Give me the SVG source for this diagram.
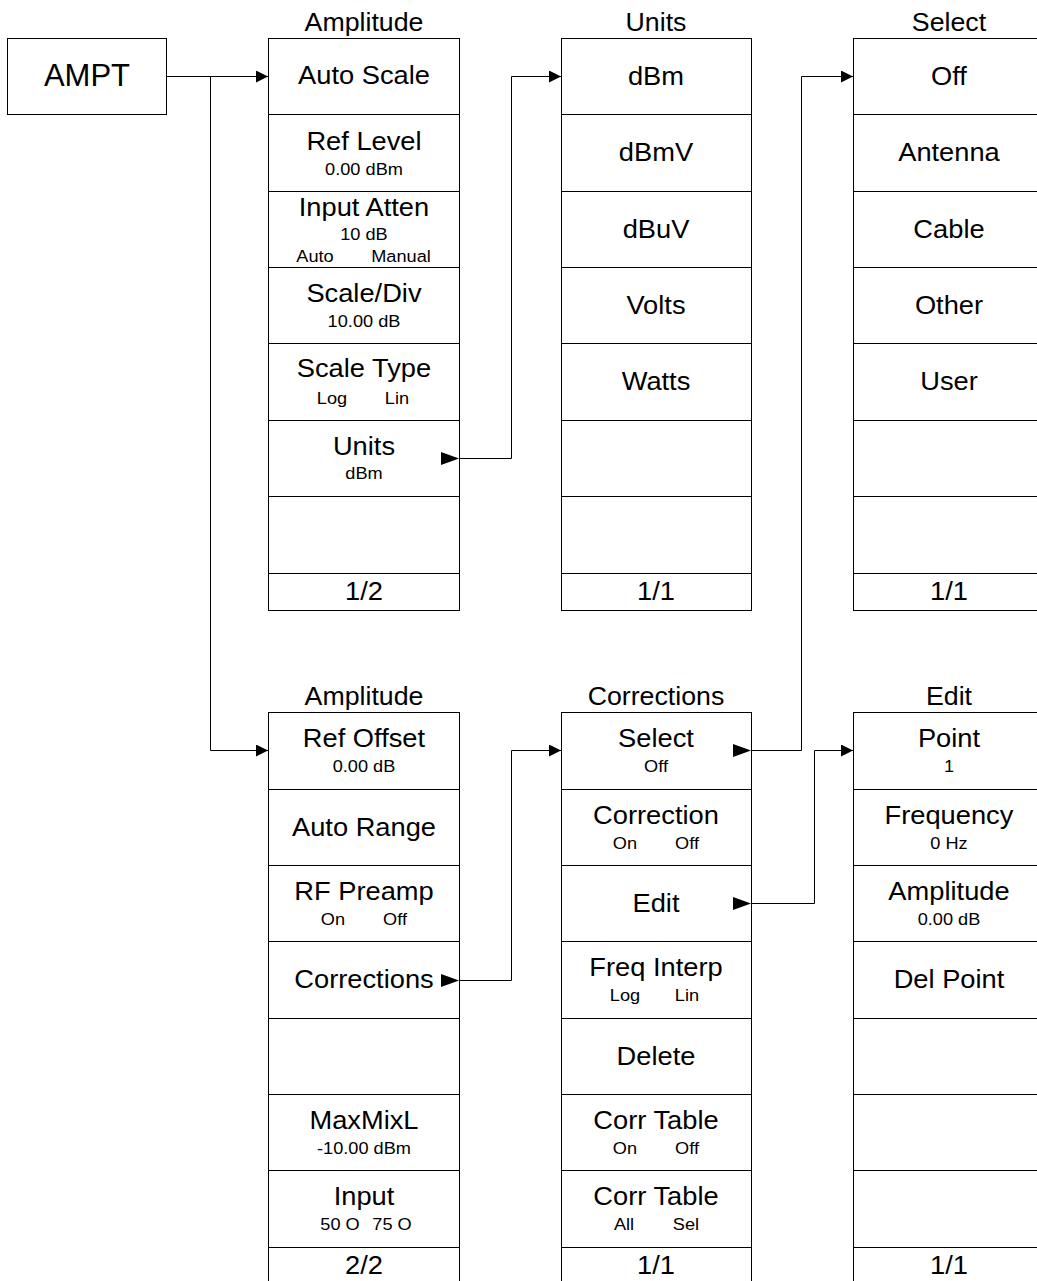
<svg xmlns="http://www.w3.org/2000/svg" width="1037" height="1281" viewBox="0 0 1037 1281">
<defs>
<style>
text{font-family:"Liberation Sans",Arial,sans-serif;fill:#000;text-anchor:middle;transform-box:fill-box;transform-origin:center;transform:scaleX(1.07)}
.m{font-size:25.5px}
.s{font-size:17px}
.t{font-size:25px}
.a{font-size:31px;transform:none}
.box{fill:#fff;stroke:#000;stroke-width:1}
.div{stroke:#000;stroke-width:1;fill:none}
.con{stroke:#000;stroke-width:1;fill:none;marker-end:url(#ah)}
.tri{fill:#000}
</style>
<marker id="ah" markerUnits="userSpaceOnUse" markerWidth="12" markerHeight="12" refX="12" refY="6" orient="auto">
<path d="M0,0 L12,6 L0,12 z" fill="#000"/>
</marker>
</defs>
<rect width="1037" height="1281" fill="#fff"/>

<g id="ampt">
<rect class="box" x="7.5" y="38.5" width="159" height="76"/>
<text class="a" x="87" y="86">AMPT</text>
</g>

<g id="menu-amplitude-1">
<text class="t" x="364" y="31">Amplitude</text>
<rect class="box" x="268.5" y="38.5" width="191" height="572"/>
<path class="div" d="M268,114.5H460M268,191.5H460M268,267.5H460M268,343.5H460M268,420.5H460M268,496.5H460M268,573.5H460"/>
<text class="m" x="364" y="84">Auto Scale</text>
<text class="m" x="364" y="150">Ref Level</text>
<text class="s" x="364" y="175">0.00 dBm</text>
<text class="m" x="364" y="216">Input Atten</text>
<text class="s" x="364" y="240">10 dB</text>
<text class="s" x="315" y="262">Auto</text>
<text class="s" x="401" y="262">Manual</text>
<text class="m" x="364" y="302">Scale/Div</text>
<text class="s" x="364" y="327">10.00 dB</text>
<text class="m" x="364" y="377">Scale Type</text>
<text class="s" x="332" y="404">Log</text>
<text class="s" x="397" y="404">Lin</text>
<text class="m" x="364" y="455">Units</text>
<text class="s" x="364" y="479">dBm</text>
<polygon class="tri" points="441,452 459,458.5 441,465"/>
<text class="m" x="364" y="600.5">1/2</text>
</g>

<g id="menu-units">
<text class="t" x="656" y="31">Units</text>
<rect class="box" x="561.5" y="38.5" width="190" height="572"/>
<path class="div" d="M561,114.5H752M561,191.5H752M561,267.5H752M561,343.5H752M561,420.5H752M561,496.5H752M561,573.5H752"/>
<text class="m" x="656" y="85">dBm</text>
<text class="m" x="656" y="161">dBmV</text>
<text class="m" x="656" y="238">dBuV</text>
<text class="m" x="656" y="314">Volts</text>
<text class="m" x="656" y="390">Watts</text>
<text class="m" x="656" y="600.5">1/1</text>
</g>

<g id="menu-select">
<text class="t" x="949" y="31">Select</text>
<rect class="box" x="853.5" y="38.5" width="191" height="572"/>
<path class="div" d="M853,114.5H1045M853,191.5H1045M853,267.5H1045M853,343.5H1045M853,420.5H1045M853,496.5H1045M853,573.5H1045"/>
<text class="m" x="949" y="85">Off</text>
<text class="m" x="949" y="161">Antenna</text>
<text class="m" x="949" y="238">Cable</text>
<text class="m" x="949" y="314">Other</text>
<text class="m" x="949" y="390">User</text>
<text class="m" x="949" y="600.5">1/1</text>
</g>

<g id="menu-amplitude-2">
<text class="t" x="364" y="705">Amplitude</text>
<rect class="box" x="268.5" y="712.5" width="191" height="572"/>
<path class="div" d="M268,789.5H460M268,865.5H460M268,941.5H460M268,1018.5H460M268,1094.5H460M268,1170.5H460M268,1247.5H460"/>
<text class="m" x="364" y="747">Ref Offset</text>
<text class="s" x="364" y="772">0.00 dB</text>
<text class="m" x="364" y="836">Auto Range</text>
<text class="m" x="364" y="900">RF Preamp</text>
<text class="s" x="333" y="925">On</text>
<text class="s" x="395" y="925">Off</text>
<text class="m" x="364" y="988">Corrections</text>
<polygon class="tri" points="441,974 459,980.5 441,987"/>
<text class="m" x="364" y="1129">MaxMixL</text>
<text class="s" x="364" y="1154">-10.00 dBm</text>
<text class="m" x="364" y="1205">Input</text>
<text class="s" x="340" y="1230">50 O</text>
<text class="s" x="392" y="1230">75 O</text>
<text class="m" x="364" y="1274.5">2/2</text>
</g>

<g id="menu-corrections">
<text class="t" x="656" y="705">Corrections</text>
<rect class="box" x="561.5" y="712.5" width="190" height="572"/>
<path class="div" d="M561,789.5H752M561,865.5H752M561,941.5H752M561,1018.5H752M561,1094.5H752M561,1170.5H752M561,1247.5H752"/>
<text class="m" x="656" y="747">Select</text>
<text class="s" x="656" y="772">Off</text>
<polygon class="tri" points="733,744 751,750.5 733,757"/>
<text class="m" x="656" y="824">Correction</text>
<text class="s" x="625" y="849">On</text>
<text class="s" x="687" y="849">Off</text>
<text class="m" x="656" y="912">Edit</text>
<polygon class="tri" points="733,897 751,903.5 733,910"/>
<text class="m" x="656" y="976">Freq Interp</text>
<text class="s" x="625" y="1001">Log</text>
<text class="s" x="687" y="1001">Lin</text>
<text class="m" x="656" y="1065">Delete</text>
<text class="m" x="656" y="1129">Corr Table</text>
<text class="s" x="625" y="1154">On</text>
<text class="s" x="687" y="1154">Off</text>
<text class="m" x="656" y="1205">Corr Table</text>
<text class="s" x="624" y="1230">All</text>
<text class="s" x="686" y="1230">Sel</text>
<text class="m" x="656" y="1274.5">1/1</text>
</g>

<g id="menu-edit">
<text class="t" x="949" y="705">Edit</text>
<rect class="box" x="853.5" y="712.5" width="191" height="572"/>
<path class="div" d="M853,789.5H1045M853,865.5H1045M853,941.5H1045M853,1018.5H1045M853,1094.5H1045M853,1170.5H1045M853,1247.5H1045"/>
<text class="m" x="949" y="747">Point</text>
<text class="s" x="949" y="772">1</text>
<text class="m" x="949" y="824">Frequency</text>
<text class="s" x="949" y="849">0 Hz</text>
<text class="m" x="949" y="900">Amplitude</text>
<text class="s" x="949" y="925">0.00 dB</text>
<text class="m" x="949" y="988">Del Point</text>
<text class="m" x="949" y="1274.5">1/1</text>
</g>

<g id="connectors">
<path class="con" d="M166,76.5H268"/>
<path class="con" d="M210.5,76.5V750.5H268"/>
<path class="con" d="M459,458.5H511.5V76.5H561"/>
<path class="con" d="M459,980.5H511.5V750.5H561"/>
<path class="con" d="M751,750.5H801.5V76.5H853"/>
<path class="con" d="M751,903.5H814.5V750.5H853"/>
</g>
</svg>
